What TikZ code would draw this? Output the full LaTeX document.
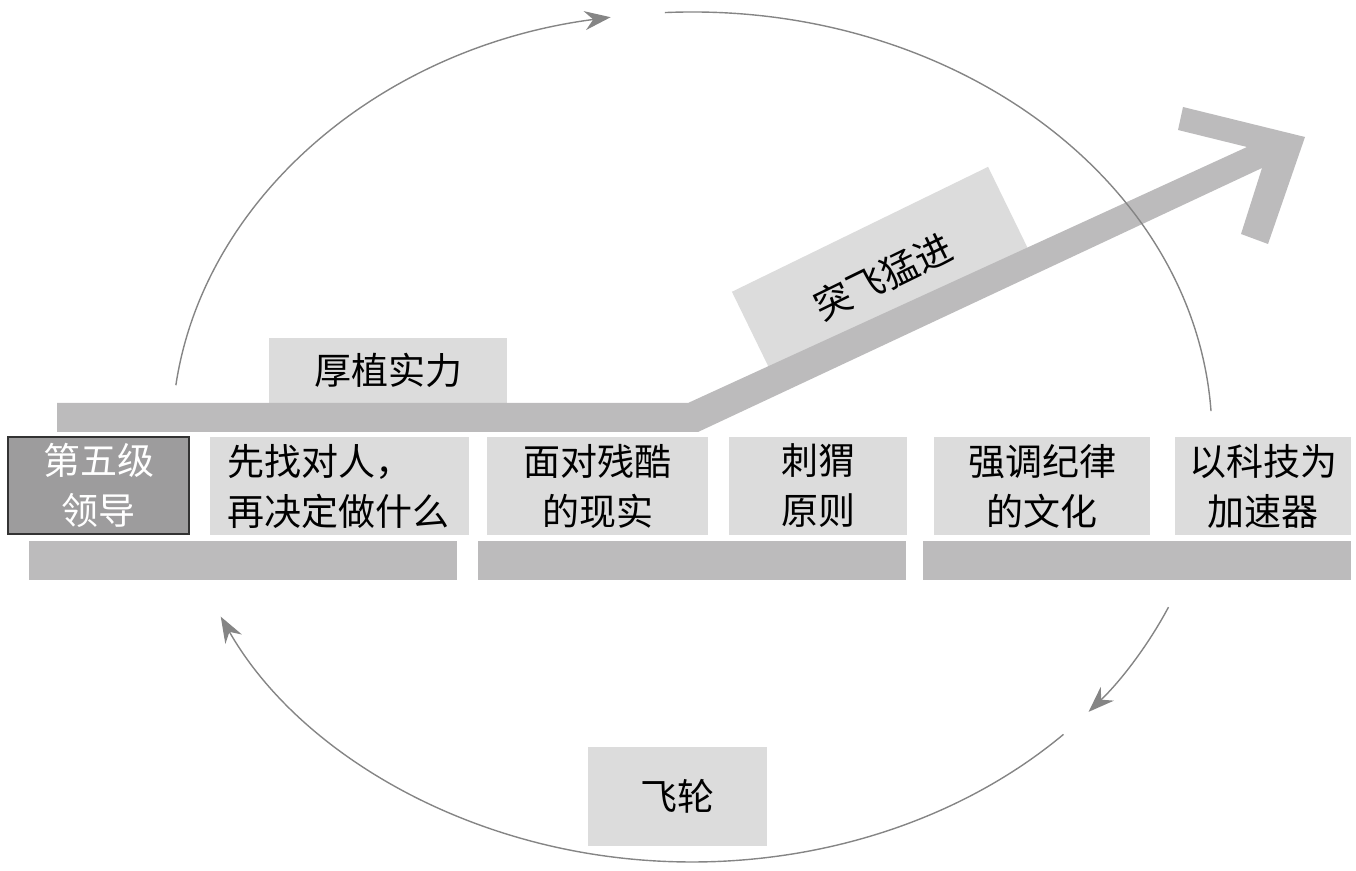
\documentclass[tikz,border=0pt]{standalone}
\usepackage{fontspec}
\newfontfamily\cjk{Noto Sans CJK SC}
\usetikzlibrary{arrows.meta}
\definecolor{barg}{HTML}{BCBBBC}
\definecolor{boxg}{HTML}{DCDCDC}
\definecolor{darkg}{HTML}{9D9C9D}
\definecolor{lineg}{HTML}{858585}
\tikzset{
  lbl/.style={font=\cjk\fontsize{37}{50}\selectfont, text=black, inner sep=0pt},
  lightbox/.style={lbl, fill=boxg, minimum height=98pt, align=center},
  barbox/.style={fill=barg, inner sep=0pt, minimum height=39pt, minimum width=428pt},
  cyc/.style={draw=lineg, line width=1.4pt},
  cyctip/.style={cyc, -{Stealth[length=26pt,width=19pt]}, fill=none}
}
\begin{document}
\begin{tikzpicture}[x=1pt,y=1pt]
\useasboundingbox (0,0) rectangle (1356,870);
% bottom bars
\node[barbox] (bar1) at (243,309.5) {};
\node[barbox] (bar2) at (692,309.5) {};
\node[barbox] (bar3) at (1137,309.5) {};
% top row boxes
\node[lbl, fill=darkg, draw={rgb,255:red,51;green,51;blue,51}, line width=2pt, text=white, minimum width=181pt, minimum height=97pt, align=center] (lead) at (98.5,384.5) {第五级\\领导};
\node[lightbox, minimum width=259pt, text width=225pt, align=left] (b1) at (339.5,384) {先找对人，\\再决定做什么};
\node[lightbox, minimum width=221pt] (b2) at (597.5,384) {面对残酷\\的现实};
\node[lightbox, minimum width=178pt] (b3) at (818,384) {刺猬\\原则};
\node[lightbox, minimum width=216pt] (b4) at (1042,384) {强调纪律\\的文化};
\node[lightbox, minimum width=176pt] (b5) at (1263,384) {以科技为\\加速器};
% upper labels
\node[lightbox, minimum width=238pt, minimum height=65pt] (acc) at (388,499.5) {厚植实力};
\node[lightbox, minimum width=285pt, minimum height=105pt, rotate=26] (leap) at (883,593.5) {突飞猛进};
% big arrow
\fill[barg] (57,467) -- (688,467) -- (1247,723) -- (1178,740) -- (1183,763) -- (1305,733)
  -- (1268,626) -- (1241,636) -- (1262,702) -- (698,438) -- (57,438) -- cycle;
% flywheel label
\node[lightbox, minimum width=179pt, minimum height=99pt] (fly) at (677.5,73.5) {飞轮};
% cycle arcs
\coordinate (c) at (692,433);
\draw[cyctip] (c) ++(173:520 and 425) arc[start angle=173, end angle=99, x radius=520, y radius=425];
\draw[cyc] (c) ++(93:520 and 425) arc[start angle=93, end angle=3.5, x radius=520, y radius=425];
\draw[cyctip] (c) ++(-23.6:520 and 425) arc[start angle=-23.6, end angle=-40.3, x radius=520, y radius=425];
\draw[cyctip] (c) ++(-44.4:520 and 425) arc[start angle=-44.4, end angle=-155, x radius=520, y radius=425];
\end{tikzpicture}
\end{document}
